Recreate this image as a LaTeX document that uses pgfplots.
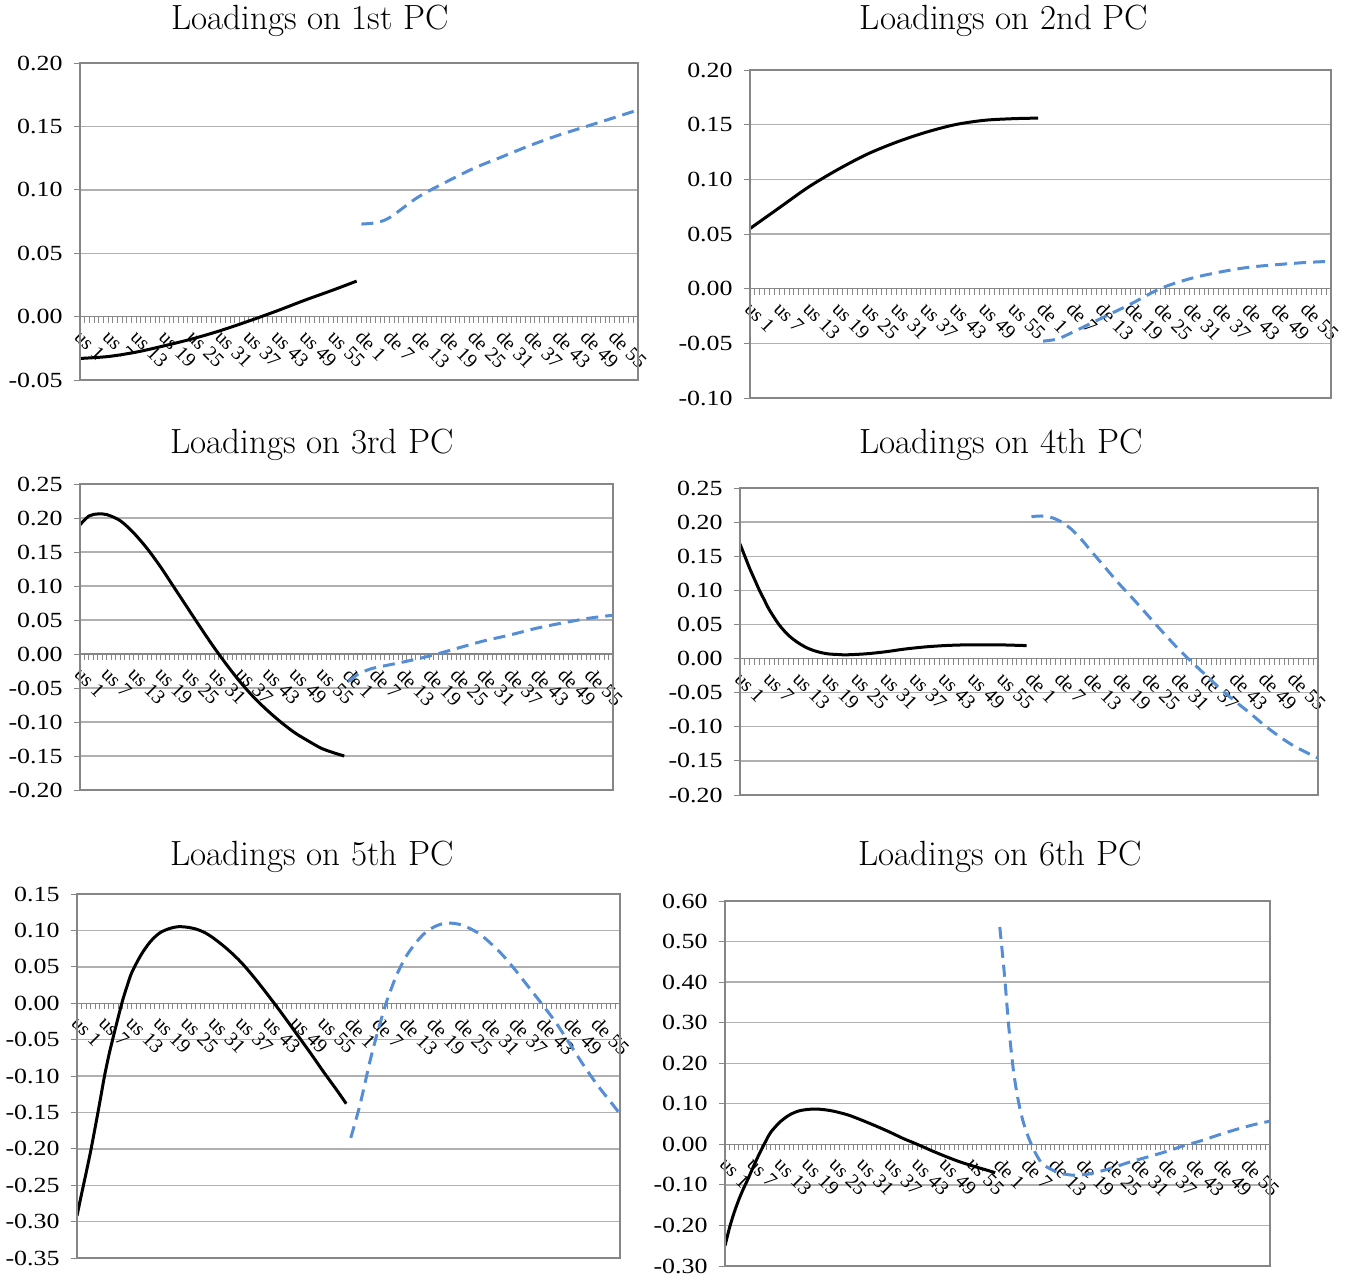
\documentclass[border=0pt]{standalone}
\usepackage{fontspec}
\usepackage{pgfplots}
\pgfplotsset{compat=1.18}
\newfontfamily\tickfam[FakeStretch=1.2]{Liberation Serif}
\newfontfamily\lblfam{Liberation Serif}
\newcommand\yfont{\tickfam\fontsize{10.8bp}{13bp}\selectfont}
\newcommand\xfont{\lblfam\fontsize{10bp}{11.5bp}\selectfont}
\newcommand\tfont{\fontsize{17.5bp}{20bp}\selectfont}
\definecolor{gridgray}{RGB}{176,176,176}
\definecolor{framegray}{RGB}{134,134,134}
\definecolor{dblue}{RGB}{85,142,213}
\pgfplotsset{
  pcstyle/.style={
    scale only axis,
    axis x line=middle, axis y line=left,
    every inner x axis line/.append style={-},
    every outer y axis line/.append style={-},
    axis line style={draw=framegray, line width=0.6bp},
    hide obscured x ticks=false, hide obscured y ticks=false,
    enlargelimits=false,
    xmin=0, xmax=119,
    xtick={0,6,...,114},
    xticklabels={us 1,us 7,us 13,us 19,us 25,us 31,us 37,us 43,us 49,us 55,de 1,de 7,de 13,de 19,de 25,de 31,de 37,de 43,de 49,de 55},
    minor xtick={0,...,119},
    tick align=outside,
    major tick length=3bp, minor tick length=3bp,
    tick style={draw=framegray, line width=0.5bp},
    ymajorgrids, grid style={draw=gridgray, line width=0.7bp},
    xticklabel style={font=\xfont, rotate=-45, anchor=north west, inner sep=1bp, xshift=2bp},
    yticklabel style={font=\yfont, anchor=east, inner sep=0pt, xshift=-5.5bp},
    /pgf/number format/.cd, fixed, fixed zerofill, precision=2, assume math mode=true,
    /pgfplots/.cd,
    after end axis/.code={\draw[framegray, line width=0.6bp] (rel axis cs:0,0) rectangle (rel axis cs:1,1);},
  },
  us/.style={black, line width=1.5bp, smooth},
  de/.style={dblue, line width=1.5bp, dash pattern=on 6bp off 3.5bp, smooth},
}
\begin{document}
\begin{tikzpicture}
\useasboundingbox (0,0) rectangle (673bp,-638bp);
% Panel 1
\begin{axis}[pcstyle, at={(40bp,-190bp)}, anchor=south west, width=279bp, height=158.5bp,
  ymin=-0.05, ymax=0.20, ytick={-0.05,0,0.05,0.10,0.15,0.20}]
\addplot[us] coordinates {(0,-0.033) (6,-0.0315) (12,-0.028) (18,-0.023) (24,-0.0175) (30,-0.011) (36,-0.0035) (42,0.0045) (48,0.013) (54,0.021) (59,0.028)};
\addplot[de] coordinates {(60,0.073) (63,0.074) (66,0.078) (72,0.094) (78,0.106) (84,0.117) (90,0.126) (96,0.135) (102,0.143) (108,0.150) (114,0.157) (119,0.163)};
\end{axis}
\node[anchor=base, font=\tfont] at (155bp,-14.5bp) {Loadings on 1st PC};
% Panel 2
\begin{axis}[pcstyle, at={(375bp,-199bp)}, anchor=south west, width=290.5bp, height=164bp,
  ymin=-0.10, ymax=0.20, ytick={-0.10,-0.05,0,0.05,0.10,0.15,0.20}]
\addplot[us] coordinates {(0,0.055) (6,0.074) (12,0.093) (18,0.109) (24,0.123) (30,0.134) (36,0.143) (42,0.150) (48,0.154) (54,0.1555) (59,0.156)};
\addplot[de] coordinates {(60,-0.048) (63,-0.046) (66,-0.040) (72,-0.027) (78,-0.014) (84,0.000) (90,0.009) (96,0.015) (102,0.0195) (108,0.022) (114,0.024) (119,0.025)};
\end{axis}
\node[anchor=base, font=\tfont] at (502bp,-14.5bp) {Loadings on 2nd PC};
% Panel 3
\begin{axis}[pcstyle, at={(40bp,-395bp)}, anchor=south west, width=266.5bp, height=153bp,
  ymin=-0.20, ymax=0.25, ytick={-0.20,-0.15,-0.10,-0.05,0,0.05,0.10,0.15,0.20,0.25}]
\addplot[us] coordinates {(0,0.190) (2,0.203) (4,0.206) (6,0.205) (9,0.196) (12,0.178) (15,0.155) (18,0.128) (21,0.098) (24,0.068) (27,0.038) (30,0.009) (33,-0.018) (36,-0.043) (39,-0.065) (42,-0.084) (45,-0.101) (48,-0.116) (51,-0.128) (54,-0.139) (57,-0.146) (59,-0.150)};
\addplot[de] coordinates {(60,-0.040) (62,-0.030) (64,-0.024) (66,-0.020) (72,-0.012) (78,-0.003) (84,0.008) (90,0.019) (96,0.028) (102,0.038) (108,0.046) (114,0.053) (119,0.057)};
\end{axis}
\node[anchor=base, font=\tfont] at (156bp,-226.5bp) {Loadings on 3rd PC};
% Panel 4
\begin{axis}[pcstyle, at={(370bp,-397.5bp)}, anchor=south west, width=289bp, height=153.5bp,
  ymin=-0.20, ymax=0.25, ytick={-0.20,-0.15,-0.10,-0.05,0,0.05,0.10,0.15,0.20,0.25}]
\addplot[us] coordinates {(0,0.168) (1,0.150) (2,0.132) (3,0.116) (4,0.100) (5,0.086) (6,0.072) (8,0.050) (10,0.034) (12,0.023) (14,0.015) (16,0.010) (18,0.007) (20,0.006) (22,0.0055) (26,0.007) (30,0.010) (34,0.014) (38,0.017) (42,0.019) (46,0.020) (50,0.020) (54,0.020) (59,0.019)};
\addplot[de] coordinates {(60,0.208) (62,0.209) (64,0.207) (66,0.201) (68,0.191) (70,0.177) (72,0.160) (75,0.135) (78,0.110) (81,0.087) (84,0.063) (87,0.039) (90,0.016) (93,-0.005) (96,-0.025) (99,-0.045) (102,-0.063) (105,-0.080) (108,-0.098) (111,-0.114) (114,-0.128) (117,-0.139) (119,-0.146)};
\end{axis}
\node[anchor=base, font=\tfont] at (500.5bp,-226.5bp) {Loadings on 4th PC};
% Panel 5
\begin{axis}[pcstyle, at={(38.5bp,-629bp)}, anchor=south west, width=271.5bp, height=182bp,
  ymin=-0.35, ymax=0.15, ytick={-0.35,-0.30,-0.25,-0.20,-0.15,-0.10,-0.05,0,0.05,0.10,0.15}]
\addplot[us] coordinates {(0,-0.292) (1,-0.262) (2,-0.233) (3,-0.203) (4,-0.170) (5,-0.136) (6,-0.101) (7,-0.071) (8,-0.045) (9,-0.020) (10,0.004) (11,0.024) (12,0.042) (14,0.066) (16,0.084) (18,0.096) (20,0.102) (22,0.105) (24,0.1045) (26,0.102) (28,0.097) (30,0.089) (33,0.074) (36,0.056) (39,0.034) (42,0.010) (45,-0.015) (48,-0.041) (51,-0.067) (54,-0.094) (57,-0.120) (59,-0.138)};
\addplot[de] coordinates {(60,-0.185) (61,-0.163) (62,-0.140) (63,-0.113) (64,-0.085) (65,-0.060) (66,-0.037) (67,-0.015) (68,0.005) (70,0.038) (72,0.063) (74,0.081) (76,0.095) (78,0.104) (80,0.109) (82,0.110) (84,0.108) (86,0.103) (88,0.096) (90,0.086) (93,0.068) (96,0.046) (99,0.022) (102,-0.002) (105,-0.027) (108,-0.056) (111,-0.085) (114,-0.112) (117,-0.136) (119,-0.152)};
\end{axis}
\node[anchor=base, font=\tfont] at (156bp,-432.5bp) {Loadings on 5th PC};
% Panel 6
\begin{axis}[pcstyle, at={(362.5bp,-633bp)}, anchor=south west, width=272.5bp, height=182.5bp,
  ymin=-0.30, ymax=0.60, ytick={-0.30,-0.20,-0.10,0,0.10,0.20,0.30,0.40,0.50,0.60}]
\addplot[us] coordinates {(0,-0.250) (1,-0.205) (2,-0.168) (3,-0.137) (4,-0.110) (5,-0.086) (6,-0.060) (7,-0.035) (8,-0.012) (9,0.010) (10,0.030) (12,0.055) (14,0.072) (16,0.082) (18,0.086) (20,0.087) (22,0.085) (24,0.081) (27,0.072) (30,0.059) (33,0.045) (36,0.030) (39,0.014) (42,0.000) (45,-0.015) (48,-0.029) (51,-0.042) (54,-0.053) (57,-0.063) (59,-0.070)};
\addplot[de] coordinates {(60,0.536) (61,0.420) (62,0.285) (63,0.180) (64,0.110) (65,0.060) (66,0.025) (67,-0.003) (68,-0.026) (69,-0.044) (70,-0.054) (72,-0.066) (74,-0.073) (76,-0.076) (78,-0.075) (80,-0.072) (84,-0.060) (88,-0.045) (92,-0.032) (96,-0.019) (100,-0.004) (104,0.009) (108,0.024) (112,0.038) (116,0.050) (119,0.057)};
\end{axis}
\node[anchor=base, font=\tfont] at (500bp,-432.5bp) {Loadings on 6th PC};
\end{tikzpicture}
\end{document}
